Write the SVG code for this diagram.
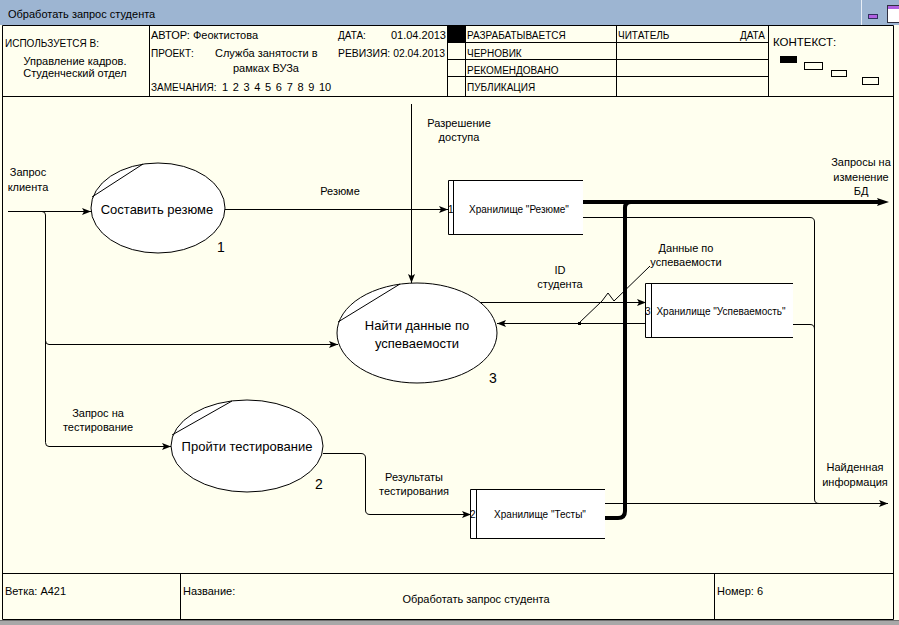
<svg xmlns="http://www.w3.org/2000/svg" width="899" height="625" viewBox="0 0 899 625">
<defs>
<marker id="ar" markerUnits="userSpaceOnUse" markerWidth="10" markerHeight="8" refX="9" refY="3.5" orient="auto">
<path d="M0,0 L9,3.5 L0,7 L2,3.5 z" fill="#000"/>
</marker>
<style>
text{font-family:"Liberation Sans",Arial,sans-serif;fill:#000}
.h{font-size:10px}
.hm{font-size:11px}
.l{font-size:11px;text-anchor:middle}
.p{font-size:13px;text-anchor:middle}
.n{font-size:14px;text-anchor:middle}
.s{font-size:10px;text-anchor:middle}
.sn{font-size:10px}
.ln{fill:none;stroke:#000;stroke-width:1}
.c{fill:none;stroke:#000;stroke-width:1}
.thick{fill:none;stroke:#000;stroke-width:4}
.ell{fill:#fff;stroke:#000;stroke-width:1}
.st{fill:#fff;stroke:none}
</style>
</defs>
<!-- window -->
<rect x="0" y="0" width="899" height="625" fill="#FFFFEF"/>
<rect x="0" y="0" width="899" height="25" fill="#9DB5D2"/>
<text x="8" y="18" style="font-size:11px">Обработать запрос студента</text>
<line x1="861.5" y1="0" x2="861.5" y2="25" stroke="#E8EEF6" stroke-width="1"/>
<rect x="868.5" y="14.5" width="9" height="4" fill="#B060E0" stroke="#303060" stroke-width="1"/>
<rect x="887.5" y="5.5" width="14" height="17" fill="#fff" stroke="#303040" stroke-width="1"/>
<rect x="888" y="6" width="11" height="3" fill="#B060E0"/>
<rect x="0" y="620" width="899" height="5" fill="#A8A8A8"/>
<line x1="0" y1="620.5" x2="899" y2="620.5" stroke="#707070"/>

<!-- frame and header -->
<g id="frame" class="ln">
<path d="M2.5,25.5 H893.5 V619.5 H2.5 Z"/>
<line x1="2" y1="96.5" x2="893" y2="96.5"/>
<line x1="149.5" y1="25" x2="149.5" y2="96"/>
<line x1="447.5" y1="25" x2="447.5" y2="96"/>
<line x1="465.5" y1="25" x2="465.5" y2="96"/>
<line x1="616.5" y1="25" x2="616.5" y2="96"/>
<line x1="768.5" y1="25" x2="768.5" y2="96"/>
<line x1="447" y1="42.5" x2="768" y2="42.5"/>
<line x1="447" y1="59.5" x2="768" y2="59.5"/>
<line x1="447" y1="76.5" x2="768" y2="76.5"/>
<line x1="2" y1="573.5" x2="893" y2="573.5"/>
<line x1="180.5" y1="573" x2="180.5" y2="619"/>
<line x1="714.5" y1="573" x2="714.5" y2="619"/>
</g>
<rect x="448" y="26" width="17" height="16" fill="#000"/>
<g id="header">
<text class="h" x="5" y="47">ИСПОЛЬЗУЕТСЯ В:</text>
<text class="hm" x="75" y="65" text-anchor="middle">Управление кадров.</text>
<text class="hm" x="75" y="77" text-anchor="middle">Студенческий отдел</text>
<text class="hm" x="151" y="39">АВТОР: Феоктистова</text>
<text class="h" x="338" y="39">ДАТА:</text>
<text class="hm" x="446" y="39" text-anchor="end">01.04.2013</text>
<text class="h" x="151" y="57">ПРОЕКТ:</text>
<text class="hm" x="215" y="57">Служба занятости в</text>
<text x="338" y="57" style="font-size:10.5px" textLength="107" lengthAdjust="spacingAndGlyphs">РЕВИЗИЯ: 02.04.2013</text>
<text class="hm" x="266" y="72" text-anchor="middle">рамках ВУЗа</text>
<text class="h" x="151" y="91">ЗАМЕЧАНИЯ:</text>
<text class="hm" x="222" y="91" word-spacing="1.6">1 2 3 4 5 6 7 8 9 10</text>
<text class="h" x="467" y="39">РАЗРАБАТЫВАЕТСЯ</text>
<text class="h" x="467" y="57">ЧЕРНОВИК</text>
<text class="h" x="467" y="74">РЕКОМЕНДОВАНО</text>
<text class="h" x="467" y="91">ПУБЛИКАЦИЯ</text>
<text class="h" x="618" y="39">ЧИТАТЕЛЬ</text>
<text class="h" x="765" y="39" text-anchor="end">ДАТА</text>
<text x="773" y="46" style="font-size:11.5px">КОНТЕКСТ:</text>
<rect x="780" y="56" width="17" height="7" fill="#000"/>
<rect x="804.5" y="62.5" width="18" height="7" fill="none" stroke="#000"/>
<rect x="831.5" y="70.5" width="15" height="6" fill="none" stroke="#000"/>
<rect x="862.5" y="77.5" width="16" height="7" fill="none" stroke="#000"/>
</g>
<g id="footer">
<text class="hm" x="5" y="595">Ветка:  A421</text>
<text class="hm" x="183" y="595">Название:</text>
<text class="hm" x="476" y="603" text-anchor="middle">Обработать запрос студента</text>
<text class="hm" x="717" y="595">Номер: 6</text>
</g>

<!-- connectors -->
<g id="connectors">
<path class="c" d="M8,211.5 H91" marker-end="url(#ar)"/>
<path class="c" d="M42,211.5 Q45.5,211.5 45.5,215 V340.5 Q45.5,344.5 49,344.5 H338" marker-end="url(#ar)"/>
<path class="c" d="M45.5,340 V442.5 Q45.5,446.5 49,446.5 H171" marker-end="url(#ar)"/>
<path class="c" d="M225,209.5 H448" marker-end="url(#ar)"/>
<path class="c" d="M411.5,104 V283" marker-end="url(#ar)"/>
<path class="c" d="M479,302.5 H646" marker-end="url(#ar)"/>
<path class="c" d="M645,323.5 H497" marker-end="url(#ar)"/>
<polyline class="c" points="579,323 602,301 608,293 614,301 650,266"/>
<rect x="578" y="322" width="3" height="3" fill="#000"/>
<path class="thick" d="M583,202 H880"/>
<path d="M877,198 L889,202 L877,206 L879,202 z" fill="#000"/>
<path class="thick" d="M605,518 H618 Q625,518 625,511 V208 Q625,202 631,202"/>
<path class="c" d="M583,217.5 H810 Q814.5,217.5 814.5,222 V499 Q814.5,503.5 819,503.5"/>
<path class="c" d="M793,324.5 H810 Q814.5,324.5 814.5,329"/>
<path class="c" d="M605,503.5 H888" marker-end="url(#ar)"/>
<path class="c" d="M323,453.5 H361 Q365.5,453.5 365.5,458 V510 Q365.5,514.5 370,514.5 H471" marker-end="url(#ar)"/>
</g>
<g id="connector-labels">
<text class="l" x="28" y="176">Запрос</text>
<text class="l" x="28" y="191">клиента</text>
<text class="l" x="340" y="195">Резюме</text>
<text class="l" x="459" y="127">Разрешение</text>
<text class="l" x="459" y="141">доступа</text>
<text class="l" x="560" y="274">ID</text>
<text class="l" x="560" y="288">студента</text>
<text class="l" x="686" y="252">Данные по</text>
<text class="l" x="686" y="266">успеваемости</text>
<text class="l" x="861" y="166">Запросы на</text>
<text class="l" x="861" y="181">изменение</text>
<text class="l" x="861" y="195">БД</text>
<text class="l" x="98" y="417">Запрос на</text>
<text class="l" x="98" y="431">тестирование</text>
<text class="l" x="414" y="481">Результаты</text>
<text class="l" x="414" y="495">тестирования</text>
<text class="l" x="855" y="471">Найденная</text>
<text class="l" x="855" y="486">информация</text>
</g>

<!-- processes -->
<g id="p1">
<ellipse class="ell" cx="158" cy="208" rx="67" ry="45"/>
<line class="c" x1="92" y1="197" x2="143" y2="164"/>
<text class="p" x="157" y="214">Составить резюме</text>
<text class="n" x="221" y="252">1</text>
</g>
<g id="p2">
<ellipse class="ell" cx="247" cy="446" rx="76" ry="46"/>
<line class="c" x1="172" y1="435" x2="232" y2="401"/>
<text class="p" x="247" y="451">Пройти тестирование</text>
<text class="n" x="319" y="489">2</text>
</g>
<g id="p3">
<ellipse class="ell" cx="417" cy="333" rx="80" ry="50"/>
<line class="c" x1="338" y1="322" x2="400" y2="284"/>
<text class="p" x="417" y="330">Найти данные по</text>
<text class="p" x="417" y="348">успеваемости</text>
<text class="n" x="493" y="383">3</text>
</g>

<!-- stores -->
<g id="s1">
<rect class="st" x="448" y="180" width="135" height="54"/>
<path class="ln" d="M583,180.5 H448.5 V234.5 H583 M453.5,180 V234"/>
<text class="sn" x="448" y="213">1</text>
<text class="s" x="519" y="213">Хранилище "Резюме"</text>
</g>
<g id="s3">
<rect class="st" x="645" y="283" width="148" height="54"/>
<path class="ln" d="M793,283.5 H645.5 V337.5 H793 M651.5,283 V337"/>
<text class="sn" x="645" y="315">3</text>
<text class="s" x="721" y="315">Хранилище "Успеваемость"</text>
</g>
<g id="s2">
<rect class="st" x="470" y="489" width="135" height="49"/>
<path class="ln" d="M605,489.5 H470.5 V538.5 H605 M476.5,489 V538"/>
<text class="sn" x="470" y="518">2</text>
<text class="s" x="540" y="518">Хранилище "Тесты"</text>
</g>
</svg>
